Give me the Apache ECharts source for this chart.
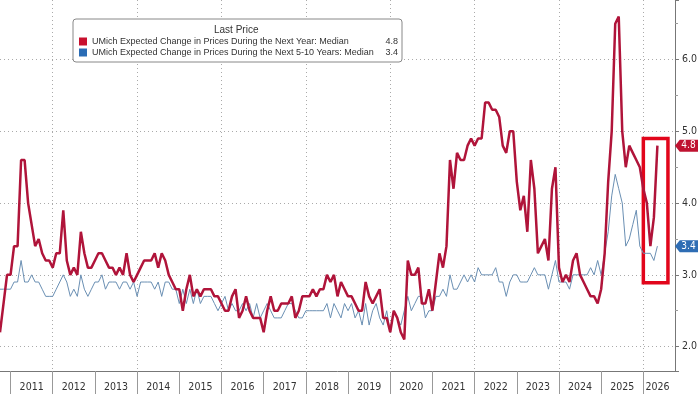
<!DOCTYPE html>
<html><head><meta charset="utf-8">
<script src="https://cdn.jsdelivr.net/npm/echarts@6/dist/echarts.min.js"></script>
<style>html,body{margin:0;padding:0;background:#fff}#c{width:700px;height:394px}</style>
</head><body><div id="c"></div>
<script>
// ---- data ----
const firstYear = 2010, firstMonth = 9;   // first category: Sep 2010
const categoryCount = 193;                // through Sep 2026 (axis end)
const nameOneYear = 'UMich Expected Change in Prices During the Next Year: Median';
const nameFiveTen = 'UMich Expected Change in Prices During the Next 5-10 Years: Median';
const oneYear = [
 2.2,2.6,3.0,3.0,3.4,3.4,4.6,4.6,4.0,3.7,
 3.4,3.5,3.3,3.2,3.2,3.1,3.3,3.3,3.9,3.2,
 3.0,3.1,3.0,3.6,3.3,3.1,3.1,3.2,3.3,3.3,
 3.2,3.1,3.1,3.0,3.1,3.0,3.3,3.0,2.9,3.0,
 3.1,3.2,3.2,3.2,3.3,3.1,3.3,3.2,3.0,2.9,
 2.8,2.8,2.5,2.8,3.0,2.7,2.8,2.7,2.8,2.8,
 2.8,2.7,2.7,2.6,2.5,2.5,2.7,2.8,2.4,2.5,
 2.7,2.5,2.4,2.4,2.4,2.2,2.5,2.7,2.5,2.5,
 2.6,2.6,2.6,2.7,2.4,2.5,2.7,2.7,2.7,2.8,
 2.7,2.8,2.8,3.0,2.9,3.0,2.7,2.9,2.8,2.7,
 2.7,2.6,2.5,2.5,2.9,2.7,2.6,2.7,2.8,2.4,
 2.4,2.2,2.5,2.4,2.2,2.1,3.2,3.0,3.0,3.1,
 2.6,2.6,2.8,2.5,2.9,3.3,3.1,3.4,4.6,4.2,
 4.7,4.6,4.6,4.8,4.9,4.8,4.9,4.9,5.4,5.4,
 5.3,5.3,5.2,4.8,4.7,5.0,5.0,4.3,3.9,4.1,
 3.6,4.6,4.2,3.3,3.4,3.5,3.2,4.2,4.5,3.1,
 2.9,3.0,2.9,3.2,3.3,3.0,2.9,2.8,2.7,2.7,
 2.6,2.8,3.3,4.3,5.0,6.5,6.6,5.0,4.5,4.8,
 4.7,4.6,4.5,4.2,4.0,3.4,3.8,4.8
];
const fiveTen = [
 2.8,2.8,2.8,2.8,2.9,2.9,3.2,2.9,2.9,3.0,
 2.9,2.9,2.8,2.7,2.7,2.7,2.8,2.9,3.0,2.9,
 2.7,2.8,2.7,3.0,2.8,2.7,2.8,2.9,2.9,3.0,
 2.8,2.9,2.9,2.9,2.8,2.9,2.9,2.8,2.9,2.7,
 2.9,2.9,2.9,2.9,2.8,2.9,2.7,2.9,2.9,2.8,
 2.8,2.6,2.8,2.6,2.8,2.6,2.8,2.6,2.7,2.7,
 2.7,2.6,2.5,2.6,2.7,2.5,2.6,2.5,2.5,2.6,
 2.5,2.6,2.4,2.6,2.4,2.5,2.6,2.5,2.4,2.4,
 2.4,2.5,2.6,2.6,2.5,2.4,2.4,2.5,2.5,2.5,
 2.5,2.5,2.5,2.6,2.4,2.6,2.5,2.4,2.6,2.5,
 2.6,2.4,2.5,2.3,2.6,2.3,2.5,2.6,2.4,2.3,
 2.5,2.2,2.5,2.4,2.3,2.5,2.7,2.5,2.6,2.7,
 2.7,2.4,2.5,2.5,2.7,2.7,2.8,2.7,3.0,2.8,
 2.8,2.9,3.0,2.9,3.0,2.9,3.1,3.0,3.0,3.0,
 3.0,3.1,2.9,2.9,2.7,2.9,3.0,3.0,2.9,2.9,
 2.9,3.0,3.1,3.0,3.0,3.0,2.8,3.0,3.2,2.9,
 2.9,2.9,2.8,3.0,3.0,3.0,3.0,3.0,3.1,3.0,
 3.2,3.0,3.3,3.6,4.1,4.4,4.2,4.0,3.4,3.5,
 3.7,3.9,3.4,3.3,3.3,3.3,3.2,3.4
];
const yearLabelMonths = ['2011-06','2012-06','2013-06','2014-06','2015-06','2016-06','2017-06','2018-06','2019-06','2020-06','2021-06','2022-06','2023-06','2024-06','2025-06','2026-04'];
const highlightBox = { from: '2025-12', to: '2026-07', top: 4.9, bottom: 2.89 };

// ---- build ----
const months = [];
for (let k = 0; k < categoryCount; k++) {
  const m = firstMonth - 1 + k;
  months.push((firstYear + Math.floor(m / 12)) + '-' + String(m % 12 + 1).padStart(2, '0'));
}
const FONT = "'Liberation Sans Narrow','DejaVu Sans Condensed','Liberation Sans',sans-serif";
const LFONT = "'Liberation Sans',Arial,sans-serif";
const lastOf = a => a[a.length - 1];
const lastVal = { [nameOneYear]: lastOf(oneYear), [nameFiveTen]: lastOf(fiveTen) };

function badge(color, arr) {
  const v = lastOf(arr);
  return {
    silent: true,
    symbol: 'path://M0,6L5,0L24,0L24,12L5,12Z',
    symbolSize: [23, 12],
    symbolOffset: [11.5, 0],
    symbolKeepAspect: false,
    itemStyle: { color: color },
    label: { show: true, position: 'inside', color: '#fff', fontSize: 10, fontFamily: FONT, formatter: v.toFixed(1), offset: [2, 0] },
    data: [{ coord: [months[months.length - 1], v], value: v }]
  };
}

const chart = echarts.init(document.getElementById('c'), null, { renderer: 'canvas' });
chart.setOption({
  animation: false,
  backgroundColor: '#fff',
  title: {
    text: 'Last Price', left: 214, top: 25, padding: 0,
    textStyle: { fontSize: 10, fontWeight: 'normal', color: '#333', fontFamily: LFONT }
  },
  legend: {
    left: 73, top: 19, orient: 'vertical',
    padding: [18, 4, 5, 6], itemGap: 2, itemWidth: 8, itemHeight: 8,
    backgroundColor: '#fff', borderColor: '#888', borderWidth: 1, borderRadius: 3,
    icon: 'rect', selectedMode: false,
    data: [
      { name: nameOneYear, itemStyle: { color: '#c8102e', borderWidth: 0 } },
      { name: nameFiveTen, itemStyle: { color: '#2a6cb5', borderWidth: 0 } }
    ],
    formatter: name => '{n|' + name + '}{v|' + lastVal[name].toFixed(1) + '}',
    textStyle: {
      color: '#333', fontSize: 9, fontFamily: LFONT, lineHeight: 9,
      rich: {
        n: { width: 290, fontSize: 9, fontFamily: LFONT, color: '#333', lineHeight: 9 },
        v: { width: 16, align: 'right', fontSize: 9, fontFamily: LFONT, color: '#333', lineHeight: 9 }
      }
    }
  },
  grid: { left: 0, right: 25, top: 0, bottom: 23, containLabel: false },
  xAxis: {
    type: 'category', boundaryGap: false, data: months,
    axisLine: { show: true, lineStyle: { color: '#777', width: 1 } },
    axisTick: { show: true, interval: (i, v) => v.endsWith('-12'), length: 23, lineStyle: { color: '#999' } },
    axisLabel: {
      interval: (i, v) => yearLabelMonths.includes(v),
      formatter: v => v.slice(0, 4),
      color: '#333', fontSize: 10.5, fontFamily: FONT, margin: 11
    },
    splitLine: {
      show: true,
      interval: (i, v) => v.endsWith('-12') && (+v.slice(0, 4)) % 2 === 1,
      lineStyle: { color: '#aaa', type: [1, 3], width: 1 }
    }
  },
  yAxis: {
    type: 'value', position: 'right', min: 1.66, max: 6.83, splitNumber: 5,
    axisLine: { show: true, lineStyle: { color: '#777' } },
    axisTick: { show: true, length: 4, lineStyle: { color: '#777' } },
    minorTick: { show: true, splitNumber: 2, length: 3, lineStyle: { color: '#999' } },
    axisLabel: {
      showMinLabel: false, showMaxLabel: false,
      formatter: v => v.toFixed(1), color: '#333', fontSize: 10.5, fontFamily: FONT, margin: 7
    },
    splitLine: { show: true, showMinLine: false, showMaxLine: false, lineStyle: { color: '#aaa', type: [1, 3] } }
  },
  series: [
    {
      name: nameFiveTen, type: 'line', data: fiveTen, symbol: 'none', z: 2,
      lineStyle: { color: '#6a8fb3', width: 1 }, itemStyle: { color: '#6a8fb3' },
      markPoint: badge('#2e6db4', fiveTen)
    },
    {
      name: nameOneYear, type: 'line', data: oneYear, symbol: 'none', z: 3,
      lineStyle: { color: '#b0143a', width: 2.5 }, itemStyle: { color: '#b0143a' },
      markPoint: badge('#bf1230', oneYear),
      markArea: {
        silent: true,
        itemStyle: { color: 'rgba(0,0,0,0)', borderColor: '#e2051b', borderWidth: 3.5 },
        label: { show: false },
        data: [[
          { coord: [highlightBox.from, highlightBox.top] },
          { coord: [highlightBox.to, highlightBox.bottom] }
        ]]
      }
    }
  ]
});
</script>
</body></html>
